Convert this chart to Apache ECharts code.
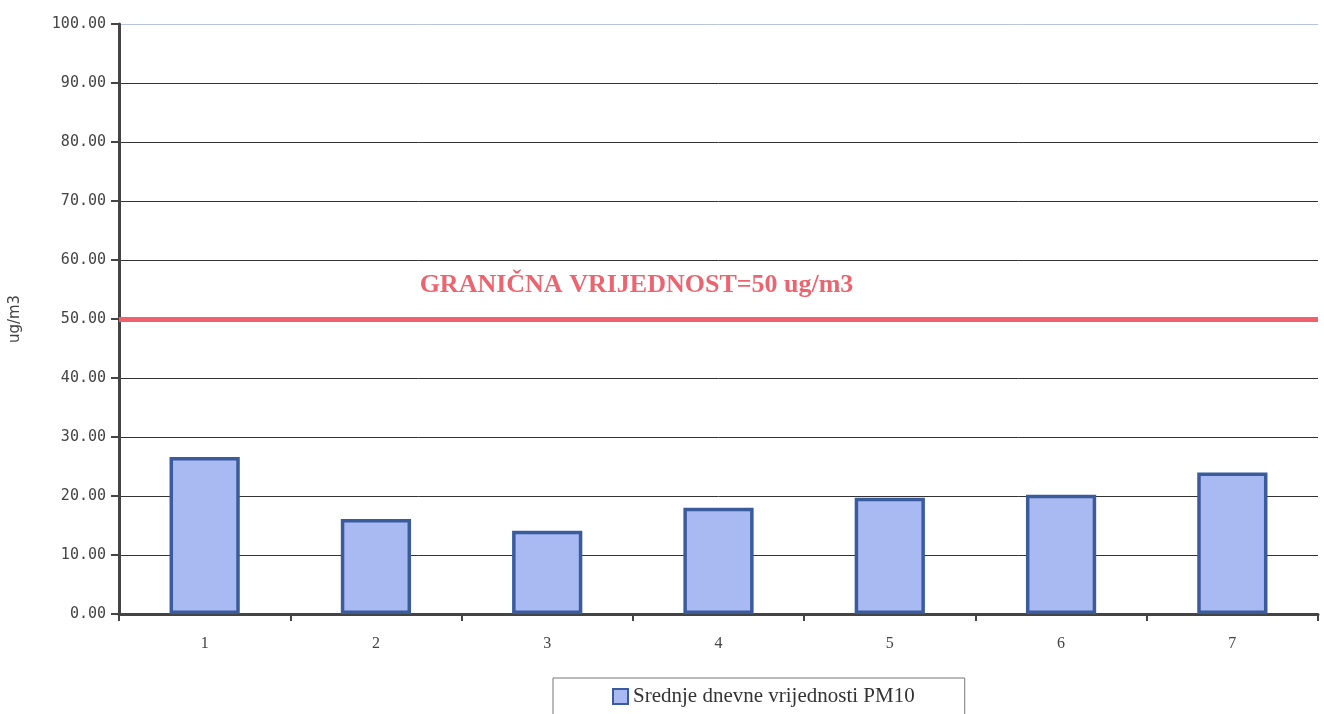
<!DOCTYPE html>
<html>
<head>
<meta charset="utf-8">
<script src="https://cdn.jsdelivr.net/npm/echarts@6/dist/echarts.min.js"></script>
<style>
html,body{margin:0;padding:0;background:#fff;}
#chart{width:1324px;height:714px;}
</style>
</head>
<body>
<div id="chart"></div>
<script>
const categories = ['1', '2', '3', '4', '5', '6', '7'];
const pm10Values = [26.6, 16.1, 14.1, 18.0, 19.7, 20.2, 24.0];
const limitValue = 50;
const limitLabel = 'GRANIČNA VRIJEDNOST=50 ug/m3';
const seriesName = 'Srednje dnevne vrijednosti PM10';
const yAxisName = 'ug/m3';

const gridColors = ['#333', '#333', '#333', '#333', '#333', '#333', '#333', '#333', '#333', '#333', '#b9c6da'];

const chart = echarts.init(document.getElementById('chart'));
chart.setOption({
  backgroundColor: '#ffffff',
  animation: false,
  grid: { left: 118, right: 6, top: 24, bottom: 100 },
  legend: {
    data: [{ name: seriesName, icon: 'rect' }],
    left: 553,
    top: 678,
    padding: [8, 50, 14, 59],
    borderColor: '#777',
    borderWidth: 1,
    itemWidth: 15,
    itemHeight: 15,
    itemGap: 6,
    textStyle: { fontFamily: 'Liberation Serif', fontSize: 21, color: '#333' }
  },
  xAxis: {
    type: 'category',
    data: categories,
    boundaryGap: true,
    axisLine: { lineStyle: { color: '#444', width: 3 } },
    axisTick: { show: true, length: 7, lineStyle: { color: '#444', width: 2 } },
    axisLabel: { fontFamily: 'Liberation Serif', fontSize: 16, color: '#444', margin: 22 },
    splitLine: { show: false }
  },
  yAxis: {
    type: 'value',
    min: 0,
    max: 100,
    interval: 10,
    name: yAxisName,
    nameLocation: 'middle',
    nameGap: 96,
    nameTextStyle: { fontFamily: 'DejaVu Sans', fontSize: 15, color: '#444' },
    axisLine: { show: true, lineStyle: { color: '#444', width: 3 } },
    axisTick: { show: true, inside: false, length: 8, lineStyle: { color: '#444', width: 2 } },
    axisLabel: {
      formatter: v => v.toFixed(2),
      fontFamily: 'DejaVu Sans Mono',
      fontSize: 15,
      color: '#444',
      margin: 13
    },
    splitLine: { show: true, lineStyle: { color: gridColors, width: 1 } }
  },
  series: [{
    name: seriesName,
    type: 'bar',
    data: pm10Values,
    barWidth: '41%',
    itemStyle: { color: '#a9b9f2', borderColor: '#3b5c9c', borderWidth: 3.5 },
    markLine: {
      silent: true,
      symbol: ['none', 'none'],
      data: [{ yAxis: limitValue }],
      lineStyle: { color: '#f0606e', width: 5, type: 'solid' },
      label: {
        show: true,
        position: 'insideMiddleTop',
        formatter: limitLabel,
        offset: [-82, -16],
        fontFamily: 'Liberation Serif',
        fontWeight: 'bold',
        fontSize: 26,
        color: '#ec6470'
      }
    }
  }]
});
</script>
</body>
</html>
